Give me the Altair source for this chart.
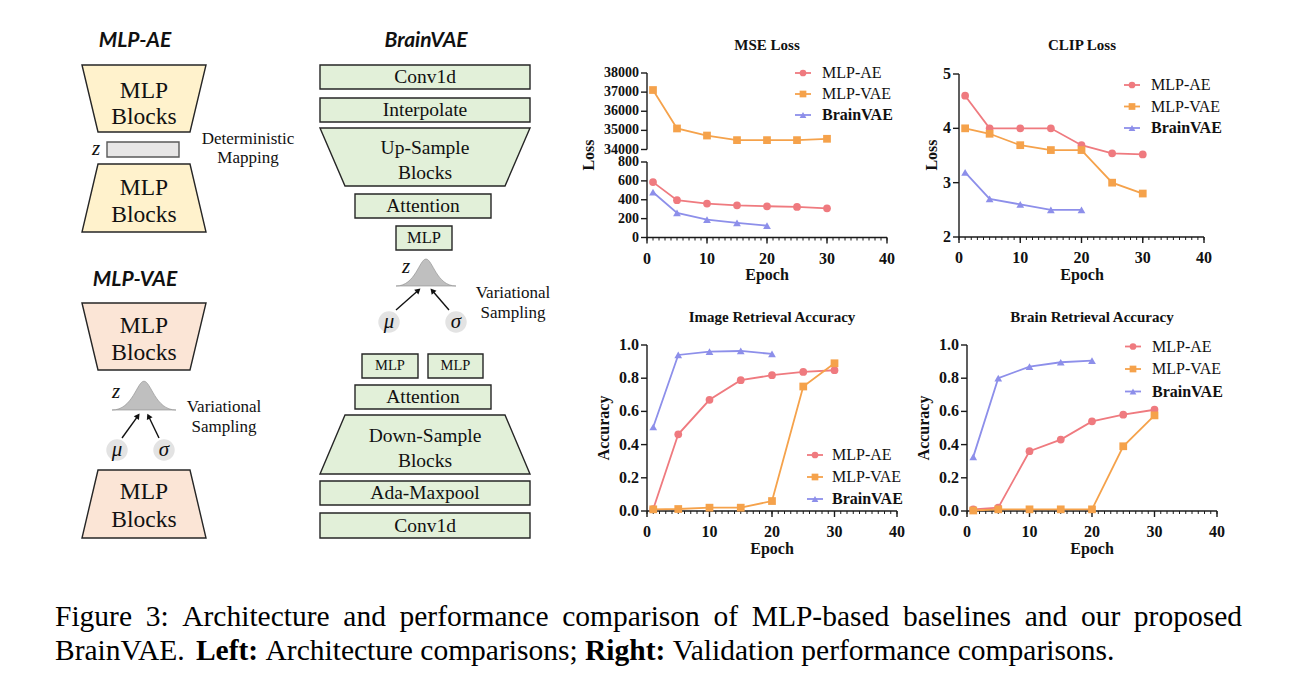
import math
import altair as alt
import pandas as pd

M = 8  # page margin: reference pixel = chart pixel + 8

# ---------------- chart data ----------------
epochs = [1, 5, 10, 15, 20, 25, 30]
epochs_brainvae = [1, 5, 10, 15, 20]
series_names = ["MLP-AE", "MLP-VAE", "BrainVAE"]
series_colors = ["#EF7A7F", "#F5A24B", "#8D8FEA"]
series_shapes = ["circle", "square", "triangle-up"]

mse_mlp_ae = [587, 395, 360, 341, 331, 324, 309]
mse_mlp_vae = [37110, 35100, 34730, 34490, 34490, 34490, 34560]
mse_brainvae = [480, 260, 189, 154, 125]

clip_mlp_ae = [4.60, 4.00, 4.00, 4.00, 3.69, 3.54, 3.52]
clip_mlp_vae = [4.00, 3.90, 3.69, 3.60, 3.60, 3.00, 2.80]
clip_brainvae = [3.19, 2.70, 2.60, 2.50, 2.50]

img_mlp_ae = [0.012, 0.462, 0.670, 0.788, 0.818, 0.838, 0.848]
img_mlp_vae = [0.010, 0.012, 0.020, 0.020, 0.060, 0.750, 0.890]
img_brainvae = [0.506, 0.940, 0.960, 0.964, 0.946]

brn_mlp_ae = [0.010, 0.020, 0.360, 0.430, 0.540, 0.580, 0.610]
brn_mlp_vae = [0.003, 0.010, 0.010, 0.010, 0.010, 0.390, 0.576]
brn_brainvae = [0.326, 0.800, 0.870, 0.896, 0.906]

epoch_ticks = [0, 10, 20, 30, 40]
epoch_minor_ticks = list(range(0, 41))
mse_high_ticks = [34000, 35000, 36000, 37000, 38000]
mse_low_ticks = [0, 200, 400, 600, 800]
clip_ticks = [2, 3, 4, 5]
acc_ticks = [0.0, 0.2, 0.4, 0.6, 0.8, 1.0]
acc_tick_labels = ["0.0", "0.2", "0.4", "0.6", "0.8", "1.0"]

panel_titles = ["MSE Loss", "CLIP Loss", "Image Retrieval Accuracy", "Brain Retrieval Accuracy"]

caption_line1 = "Figure 3: Architecture and performance comparison of MLP-based baselines and our proposed"
caption_line2 = [("BrainVAE.", False), ("Left:", True), ("Architecture comparisons;", False),
                 ("Right:", True), ("Validation performance comparisons.", False)]

# ---------------- styles ----------------
SERIF = "Liberation Serif, Times New Roman, serif"
HAND = "Lato, DejaVu Sans, sans-serif"
AX = "#1a1a1a"
TXT = "#111111"
FILL_AE = "#FFF2CC"
FILL_VAE = "#FBE5D6"
FILL_BR = "#E2F0D9"
EDGE = "#262626"


def PX(f):
    return alt.X(f, type="quantitative", scale=None, axis=None)


def PY(f):
    return alt.Y(f, type="quantitative", scale=None, axis=None)


def texts(items, size, weight="normal", style="normal", font=SERIF, align="center",
          angle=0, color=TXT, baseline="middle"):
    df = pd.DataFrame([{"px": x - M, "py": y - M, "t": t} for x, y, t in items])
    return alt.Chart(df).mark_text(
        fontSize=size, fontWeight=weight, fontStyle=style, font=font, align=align,
        baseline=baseline, angle=angle, color=color
    ).encode(x=PX("px"), y=PY("py"), text="t:N")


# ---------------- plot panels ----------------
def panel(x_ref, y_ref, ydom, series, yticks, ylabels, with_x_axis=True, label_size=15):
    x0, x1 = x_ref[0] - M, x_ref[1] - M
    yb, yt = y_ref[0] - M, y_ref[1] - M
    xs = alt.Scale(domain=[0, 40], range=[x0, x1], nice=False, zero=False)
    ys = alt.Scale(domain=list(ydom), range=[yb, yt], nice=False, zero=False)

    def X(f):
        return alt.X(f, type="quantitative", scale=xs, axis=None)

    def Y(f):
        return alt.Y(f, type="quantitative", scale=ys, axis=None)

    layers = []
    ax = pd.DataFrame({"a": [ydom[0]], "b": [ydom[1]]})
    layers.append(alt.Chart(ax).mark_rule(color=AX, strokeWidth=1.4).encode(
        x=alt.value(x0), y=Y("a"), y2=alt.Y2("b")))
    ytd = pd.DataFrame({"v": yticks, "lab": ylabels})
    layers.append(alt.Chart(ytd).mark_rule(color=AX, strokeWidth=1.4).encode(
        x=alt.value(x0 - 6), x2=alt.value(x0), y=Y("v")))
    layers.append(alt.Chart(ytd).mark_text(
        align="right", baseline="middle", font=SERIF, fontSize=label_size, fontWeight="bold", color=TXT
    ).encode(x=alt.value(x0 - 8), y=Y("v"), text="lab:N"))
    if with_x_axis:
        xa = pd.DataFrame({"a": [0], "b": [40]})
        layers.append(alt.Chart(xa).mark_rule(color=AX, strokeWidth=1.4).encode(
            x=X("a"), x2=alt.X2("b"), y=alt.value(yb)))
        mn = pd.DataFrame({"v": epoch_minor_ticks})
        layers.append(alt.Chart(mn).mark_rule(color=AX, strokeWidth=1).encode(
            x=X("v"), y=alt.value(yb), y2=alt.value(yb + 3)))
        mj = pd.DataFrame({"v": epoch_ticks, "lab": [str(v) for v in epoch_ticks]})
        layers.append(alt.Chart(mj).mark_rule(color=AX, strokeWidth=1.4).encode(
            x=X("v"), y=alt.value(yb), y2=alt.value(yb + 6)))
        layers.append(alt.Chart(mj).mark_text(
            align="center", baseline="middle", font=SERIF, fontSize=16, fontWeight="bold", color=TXT
        ).encode(x=X("v"), y=alt.value(yb + 21), text="lab:N"))

    rows = []
    for idx, ex, vals in series:
        for e, v in zip(ex, vals):
            rows.append({"epoch": e, "value": v, "series": series_names[idx],
                         "color": series_colors[idx], "shape": series_shapes[idx]})
    df = pd.DataFrame(rows)
    layers.append(alt.Chart(df).mark_line(strokeWidth=1.8).encode(
        x=X("epoch"), y=Y("value"), color=alt.Color("color:N", scale=None), detail="series:N"))
    layers.append(alt.Chart(df).mark_point(filled=True, opacity=1, size=60).encode(
        x=X("epoch"), y=Y("value"), color=alt.Color("color:N", scale=None),
        shape=alt.Shape("shape:N", scale=None)))
    return alt.layer(*layers)


def legend(mx, tx, rows_y):
    df = pd.DataFrame([{"x1": mx - 8 - M, "x2": mx + 8 - M, "mx": mx - M, "tx": tx - M, "py": y - M,
                        "name": series_names[i], "color": series_colors[i], "shape": series_shapes[i],
                        "bold": i == 2} for i, y in enumerate(rows_y)])
    l1 = alt.Chart(df).mark_rule(strokeWidth=1.8).encode(
        x=PX("x1"), x2="x2:Q", y=PY("py"), color=alt.Color("color:N", scale=None))
    l2 = alt.Chart(df).mark_point(filled=True, opacity=1, size=45).encode(
        x=PX("mx"), y=PY("py"), color=alt.Color("color:N", scale=None), shape=alt.Shape("shape:N", scale=None))
    l3 = alt.Chart(df[~df["bold"]]).mark_text(align="left", baseline="middle", font=SERIF, fontSize=16,
                                               color=TXT).encode(x=PX("tx"), y=PY("py"), text="name:N")
    l4 = alt.Chart(df[df["bold"]]).mark_text(align="left", baseline="middle", font=SERIF, fontSize=16,
                                              fontWeight="bold", color=TXT).encode(x=PX("tx"), y=PY("py"), text="name:N")
    return [l1, l2, l3, l4]


mse_hi = panel((647, 887), (149.5, 73), (34000, 38000), [(1, epochs, mse_mlp_vae)],
               mse_high_ticks, [str(v) for v in mse_high_ticks], with_x_axis=False, label_size=14)
mse_lo = panel((647, 887), (237.5, 162), (0, 800),
               [(0, epochs, mse_mlp_ae), (2, epochs_brainvae, mse_brainvae)],
               mse_low_ticks, [str(v) for v in mse_low_ticks], label_size=14)
clip_p = panel((959, 1204), (237, 74), (2, 5),
               [(0, epochs, clip_mlp_ae), (1, epochs, clip_mlp_vae), (2, epochs_brainvae, clip_brainvae)],
               clip_ticks, [str(v) for v in clip_ticks], label_size=16)
img_p = panel((647, 897), (511, 345), (0, 1),
              [(0, epochs, img_mlp_ae), (1, epochs, img_mlp_vae), (2, epochs_brainvae, img_brainvae)],
              acc_ticks, acc_tick_labels, label_size=16)
brn_p = panel((967, 1217), (511, 345), (0, 1),
              [(0, epochs, brn_mlp_ae), (1, epochs, brn_mlp_vae), (2, epochs_brainvae, brn_brainvae)],
              acc_ticks, acc_tick_labels, label_size=16)

plot_text = [
    texts([(767, 45, panel_titles[0]), (1082, 45, panel_titles[1]),
           (772, 317, panel_titles[2]), (1092, 317, panel_titles[3])], 15, weight="bold"),
    texts([(767, 275, "Epoch"), (1082, 275, "Epoch"), (772, 549, "Epoch"), (1092, 549, "Epoch")],
          16, weight="bold"),
    texts([(589, 155, "Loss"), (932, 155, "Loss"), (604, 428, "Accuracy"), (924, 428, "Accuracy")],
          16, weight="bold", angle=270),
]
legends = (legend(803, 822, [73, 94, 115]) + legend(1132, 1151, [85, 106.5, 128]) +
           legend(815, 832, [455, 477, 499]) + legend(1133, 1152, [346.5, 369, 391.5]))

# ---------------- architecture diagram ----------------
trapezoids = [  # (id, y_top, xl_top, xr_top, y_bottom, xl_bottom, xr_bottom, fill)
    ("ae_enc", 65, 82, 206, 132, 98, 190, FILL_AE),
    ("ae_dec", 164, 98, 190, 232, 82, 206, FILL_AE),
    ("vae_enc", 303, 82, 206, 370, 98, 190, FILL_VAE),
    ("vae_dec", 470, 98, 190, 538, 82, 206, FILL_VAE),
    ("br_up", 128, 320, 530, 186, 345, 505, FILL_BR),
    ("br_down", 415, 345, 505, 474, 320, 530, FILL_BR),
]
trap_rows = []
for tid, yt_, xlt, xrt, yb_, xlb, xrb, fill in trapezoids:
    trap_rows.append({"id": tid, "y": yt_ - M, "xl": xlt - M, "xr": xrt - M, "fill": fill})
    trap_rows.append({"id": tid, "y": yb_ - M, "xl": xlb - M, "xr": xrb - M, "fill": fill})
trap_layer = alt.Chart(pd.DataFrame(trap_rows)).mark_area(
    orient="horizontal", stroke=EDGE, strokeWidth=1.4, opacity=1
).encode(y=PY("y"), x=alt.X("xl:Q", scale=None, axis=None, stack=None), x2="xr:Q",
         fill=alt.Fill("fill:N", scale=None), detail="id:N")

boxes = [  # (x1, x2, y1, y2, fill, stroke)
    (107, 179, 142, 157, "#E7E6E6", "#595959"),
    (320, 530, 65, 89, FILL_BR, EDGE),
    (320, 530, 98, 122, FILL_BR, EDGE),
    (355, 491, 194, 218, FILL_BR, EDGE),
    (396, 452, 226, 250, FILL_BR, EDGE),
    (362, 418, 354, 378, FILL_BR, EDGE),
    (428, 483, 354, 378, FILL_BR, EDGE),
    (355, 491, 385, 409, FILL_BR, EDGE),
    (320, 530, 481, 505, FILL_BR, EDGE),
    (320, 530, 513, 538, FILL_BR, EDGE),
]
box_df = pd.DataFrame([{"x1": a - M, "x2": b - M, "y1": c - M, "y2": d - M, "fill": f, "stroke": s}
                       for a, b, c, d, f, s in boxes])
box_layer = alt.Chart(box_df).mark_rect(strokeWidth=1.4).encode(
    x=PX("x1"), x2="x2:Q", y=PY("y1"), y2="y2:Q",
    fill=alt.Fill("fill:N", scale=None), stroke=alt.Stroke("stroke:N", scale=None))

BELL = "M -1 0 C -0.35 0 -0.22 -0.9 0 -0.9 C 0.22 -0.9 0.35 0 1 0 Z"
bells = [(144, 410, 64), (426, 286, 60)]  # (center x, baseline y, width)
bell_df = pd.DataFrame([{"px": x - M, "py": y - M, "sz": w * w} for x, y, w in bells])
bell_layer = alt.Chart(bell_df).mark_point(
    shape=BELL, filled=True, fill="#BFBFBF", stroke="#8C8C8C", strokeWidth=0.6, opacity=1
).encode(x=PX("px"), y=PY("py"), size=alt.Size("sz:Q", scale=None))

circles = [(117, 450), (164, 450), (389, 322), (456, 322)]
circ_df = pd.DataFrame([{"px": x - M, "py": y - M} for x, y in circles])
circ_layer = alt.Chart(circ_df).mark_circle(size=460, color="#E3E3E3", opacity=1).encode(
    x=PX("px"), y=PY("py"))

arrows = [(122, 438, 140, 413), (159, 438, 147, 413), (396, 310, 421, 288), (449, 310, 430, 288)]
arr_rows = []
for xs_, ys_, xt, yt2 in arrows:
    dx, dy = xt - xs_, yt2 - ys_
    L = math.hypot(dx, dy)
    ux, uy = dx / L, dy / L
    arr_rows.append({"x1": xs_ - M, "y1": ys_ - M, "x2": xt - ux * 5 - M, "y2": yt2 - uy * 5 - M,
                     "hx": xt - ux * 3.5 - M, "hy": yt2 - uy * 3.5 - M,
                     "ang": math.degrees(math.atan2(ux, -uy)) % 360})
arr_df = pd.DataFrame(arr_rows)
arr_line = alt.Chart(arr_df).mark_rule(color="#111", strokeWidth=1.4).encode(
    x=PX("x1"), y=PY("y1"), x2="x2:Q", y2="y2:Q")
arr_head = alt.Chart(arr_df).mark_point(shape="triangle-up", filled=True, color="#111", size=40, opacity=1).encode(
    x=PX("hx"), y=PY("hy"), angle=alt.Angle("ang:Q", scale=None))

diagram_text = [
    texts([(135, 41, "MLP-AE"), (135, 280, "MLP-VAE"), (426, 41, "BrainVAE")], 21,
          weight="bold", style="italic", font=HAND),
    texts([(144, 91, "MLP"), (144, 117, "Blocks"), (144, 188, "MLP"), (144, 215, "Blocks"),
           (144, 326, "MLP"), (144, 353, "Blocks"), (144, 492, "MLP"), (144, 520, "Blocks")], 23.5),
    texts([(425, 77, "Conv1d"), (425, 110, "Interpolate"), (425, 148, "Up-Sample"), (425, 173, "Blocks"),
           (423, 206, "Attention"), (423, 397, "Attention"), (425, 436, "Down-Sample"),
           (425, 461, "Blocks"), (425, 493, "Ada-Maxpool"), (425, 526, "Conv1d")], 19.5),
    texts([(424, 238, "MLP")], 16.5),
    texts([(390, 366, "MLP"), (455.5, 366, "MLP")], 14.5),
    texts([(248, 139, "Deterministic"), (248, 158, "Mapping"), (224, 407, "Variational"),
           (224, 427, "Sampling"), (513, 293, "Variational"), (513, 313, "Sampling")], 17),
    texts([(96, 149, "z"), (116, 392, "z"), (406, 267, "z")], 21, style="italic"),
    texts([(117, 450, "μ"), (164, 450, "σ"), (389, 322, "μ"), (456, 322, "σ")], 21, style="italic"),
]

# ---------------- caption ----------------
TIMES_REG = {' ': 250, '.': 250, ':': 278, ';': 278, '-': 333, '3': 500, 'A': 722, 'B': 667, 'E': 611,
             'F': 556, 'L': 611, 'M': 889, 'P': 556, 'V': 722, 'a': 444, 'b': 500, 'c': 444, 'd': 500,
             'e': 444, 'f': 333, 'g': 500, 'h': 500, 'i': 278, 'l': 278, 'm': 778, 'n': 500, 'o': 500,
             'p': 500, 'r': 333, 's': 389, 't': 278, 'u': 500, 'v': 500}
TIMES_BOLD = {' ': 250, ':': 333, 'L': 667, 'R': 722, 'e': 444, 'f': 333, 't': 333, 'i': 278, 'g': 500, 'h': 556}
CAP = 29.5
CAP_L, CAP_R = 55, 1242


def tw(s, bold=False):
    table = TIMES_BOLD if bold else TIMES_REG
    return sum(table.get(c, 500) for c in s) / 1000 * CAP


words = caption_line1.split(" ")
gap = (CAP_R - CAP_L - sum(tw(w) for w in words)) / (len(words) - 1)
line1_items, xcur = [], CAP_L
for w in words:
    line1_items.append((xcur, 617, w))
    xcur += tw(w) + gap
reg2, bold2, xcur = [], [], CAP_L
for piece, isb in caption_line2:
    (bold2 if isb else reg2).append((xcur, 651, piece))
    xcur += tw(piece, isb) + tw(" ")
caption = [
    texts(line1_items, CAP, align="left", color="#000"),
    texts(reg2, CAP, align="left", color="#000"),
    texts(bold2, CAP, align="left", weight="bold", color="#000"),
]

chart = alt.layer(
    trap_layer, box_layer, bell_layer, circ_layer, arr_line, arr_head,
    *diagram_text, *caption, *plot_text, *legends,
    mse_hi, mse_lo, clip_p, img_p, brn_p,
).resolve_scale(x="independent", y="independent").properties(
    width=1282, height=683, padding=0, background="white"
).configure_view(stroke=None)

chart.save("out.html", embed_options={"renderer": "svg", "actions": False})
